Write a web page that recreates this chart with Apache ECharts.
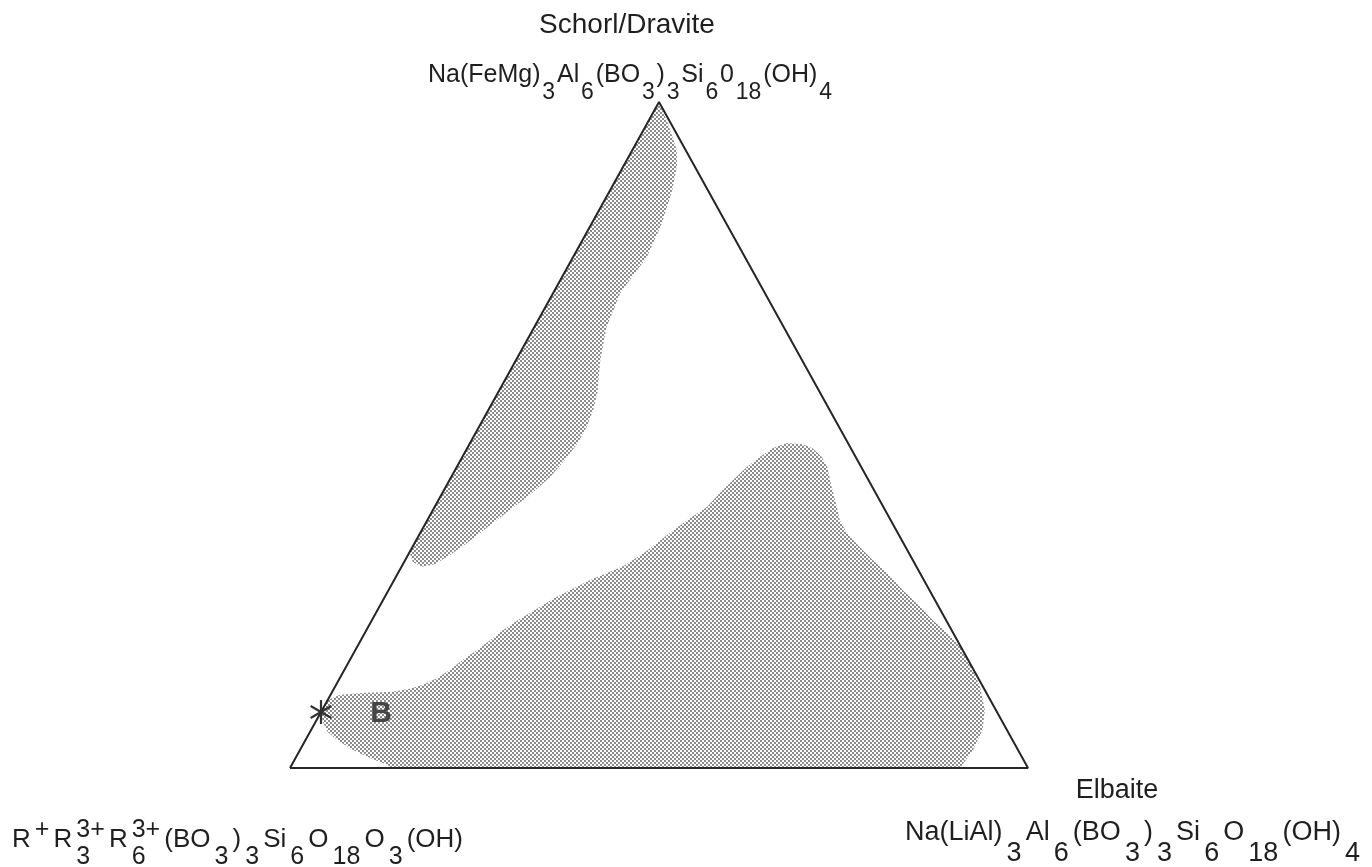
<!DOCTYPE html>
<html>
<head>
<meta charset="utf-8">
<script src="https://cdn.jsdelivr.net/npm/echarts@6/dist/echarts.min.js"></script>
<style>
  html, body { margin: 0; padding: 0; background: #ffffff; }
  #chart { width: 1372px; height: 867px; }
</style>
</head>
<body>
<div id="chart"></div>
<script>
// ---------------- DATA ----------------
// Vertex labels
const topLabel = 'Schorl/Dravite';
const rightLabel = 'Elbaite';

// Compositions as [Schorl/Dravite %, Elbaite %]; remainder = R+R3(3+)R6(3+) end-member (lower left)
const triangleSchorl  = [0, 0, 100, 0];
const triangleElbaite = [0, 100, 0, 0];

// Upper stippled field (along the Schorl/Dravite – R+ join)
const upperFieldSchorl  = [100, 96.8, 92.8, 90.5, 86.8, 81.8, 76.7, 74.0, 71.3, 66.2, 61.3, 56.3, 53.8, 51.2, 48.8, 46.2, 43.7, 41.0, 38.7, 36.2, 33.8, 32.0, 30.6, 30.2, 30.9, 32.4];
const upperFieldElbaite = [0, 2.8, 6.0, 7.2, 8.4, 9.5, 10.0, 9.5, 9.1, 9.8, 11.4, 13.5, 14.2, 14.6, 14.6, 14.1, 13.4, 12.0, 10.4, 8.7, 7.1, 5.7, 4.3, 2.8, 1.2, 0];

// Lower stippled field (towards Elbaite)
const lowerFieldSchorl  = [10.2, 11.0, 11.3, 11.4, 11.9, 12.5, 13.5, 14.7, 16.2, 17.7, 19.2, 20.7, 22.1, 23.3, 25.7, 28.2, 30.3, 32.4, 35.0, 37.2, 39.2, 41.3, 43.2, 45.2, 46.7, 48.0, 48.8, 48.6, 48.0, 46.7, 45.2, 42.2, 39.2, 37.2, 35.3, 33.2, 31.2, 29.3, 26.7, 24.2, 22.2, 20.3, 18.2, 15.8, 12.2, 8.7, 5.7, 2.7, 0, 0, 0.5, 1.5, 2.7, 4.2, 5.4, 6.9, 8.4];
const lowerFieldElbaite = [0, 1.3, 4.5, 7.9, 10.3, 11.8, 13.2, 14.3, 15.3, 16.5, 17.5, 18.5, 19.7, 20.9, 23.3, 26.5, 30.0, 31.9, 33.6, 35.2, 36.9, 37.6, 38.4, 39.3, 40.3, 41.4, 42.9, 45.2, 46.8, 48.7, 50.2, 52.3, 54.5, 55.9, 57.8, 60.6, 63.4, 66.2, 69.7, 73.3, 76.0, 78.9, 81.7, 84.2, 87.4, 89.8, 91.0, 91.2, 90.8, 13.8, 12.9, 10.1, 7.2, 4.3, 2.4, 1.0, 0];

// Asterisk composition and label "B"
const starPoint = [8.4, 0];
const bLabelPoint = [8.1, 8.3];
const bLabelText = 'B';

// Formula tokens: [text, kind] with kind n = normal, b = subscript, p = superscript; [sup, sub, 'pb'] = stacked
const topFormula = [['Na(FeMg)','n'],['3','b'],['Al','n'],['6','b'],['(BO','n'],['3','b'],[')','n'],['3','b'],['Si','n'],['6','b'],['0','n'],['18','b'],['(OH)','n'],['4','b']];
const rightFormula = [['Na(LiAl)','n'],['3','b'],['Al','n'],['6','b'],['(BO','n'],['3','b'],[')','n'],['3','b'],['Si','n'],['6','b'],['O','n'],['18','b'],['(OH)','n'],['4','b']];
const leftFormula = [['R','n'],['+','p'],['R','n'],['3+','3','pb'],['R','n'],['3+','6','pb'],['(BO','n'],['3','b'],[')','n'],['3','b'],['Si','n'],['6','b'],['O','n'],['18','b'],['O','n'],['3','b'],['(OH)','n']];

// ---------------- HELPERS ----------------
function ternaryToXY(s, e) { return [e + s / 2, s]; }
function toPoints(sArr, eArr) { return sArr.map((s, i) => ternaryToXY(s, eArr[i])); }

const FONT = "'Liberation Sans', Arial, Helvetica, sans-serif";
const INK = '#1f1f1f';
const MID = 0.3465;
const mctx = document.createElement('canvas').getContext('2d');
function tw(t, size) { mctx.font = size + 'px ' + FONT; return mctx.measureText(t).width; }

function textEl(t, x, baseline, size, align) {
  return {
    type: 'text', x: x, y: baseline - MID * size, silent: true,
    style: { text: t, font: size + 'px ' + FONT, fill: INK,
             align: align, textAlign: align, verticalAlign: 'middle', textVerticalAlign: 'middle' }
  };
}

function formula(tokens, cfg) {
  const widths = tokens.map(tk => tk.length === 3
    ? Math.max(tw(tk[0], cfg.size.p), tw(tk[1], cfg.size.b))
    : tw(tk[0], cfg.size[tk[1]]));
  const total = widths.reduce((a, b) => a + b, 0);
  const gap = Math.max(0, (cfg.x1 - cfg.x0 - total) / (tokens.length - 1));
  const els = [];
  let x = cfg.x0;
  tokens.forEach((tk, i) => {
    if (tk.length === 3) {
      els.push(textEl(tk[0], x, cfg.base.p, cfg.size.p, 'left'));
      els.push(textEl(tk[1], x, cfg.base.b, cfg.size.b, 'left'));
    } else {
      els.push(textEl(tk[0], x, cfg.base[tk[1]], cfg.size[tk[1]], 'left'));
    }
    x += widths[i] + gap;
  });
  return els;
}

function makeStipple() {
  const c = document.createElement('canvas');
  c.width = 4; c.height = 4;
  const g = c.getContext('2d');
  g.fillStyle = '#555555';
  g.beginPath(); g.arc(1, 1, 0.9, 0, Math.PI * 2); g.fill();
  g.beginPath(); g.arc(3, 3, 0.9, 0, Math.PI * 2); g.fill();
  return c;
}
const stipple = { image: makeStipple(), repeat: 'repeat' };

function fieldSeries(name, sArr, eArr) {
  const pts = toPoints(sArr, eArr);
  return {
    type: 'custom', name: name, coordinateSystem: 'cartesian2d', data: pts, z: 1, silent: true,
    renderItem: function (params, api) {
      if (params.dataIndex !== 0) return null;
      return { type: 'polygon', shape: { points: pts.map(p => api.coord(p)) },
               style: { fill: stipple, stroke: null } };
    }
  };
}

// ---------------- CHART ----------------
const chart = echarts.init(document.getElementById('chart'), null, { renderer: 'canvas' });

const graphics = []
  .concat([textEl(topLabel, 627, 35, 28, 'center')])
  .concat(formula(topFormula, { x0: 428, x1: 832, size: { n: 25, b: 23, p: 23 }, base: { n: 83.5, b: 100.5, p: 74 } }))
  .concat([textEl(rightLabel, 1117, 800, 27, 'center')])
  .concat(formula(rightFormula, { x0: 905, x1: 1360, size: { n: 27, b: 27, p: 24 }, base: { n: 842, b: 863, p: 830 } }))
  .concat(formula(leftFormula, { x0: 12, x1: 463, size: { n: 26, b: 25, p: 25 }, base: { n: 849, b: 866, p: 839 } }));

chart.setOption({
  animation: false,
  backgroundColor: '#ffffff',
  grid: { left: 290, top: 102, width: 738, height: 666 },
  xAxis: { type: 'value', min: 0, max: 100, show: false },
  yAxis: { type: 'value', min: 0, max: 100, show: false },
  graphic: graphics,
  series: [
    fieldSeries('upper field', upperFieldSchorl, upperFieldElbaite),
    fieldSeries('lower field', lowerFieldSchorl, lowerFieldElbaite),
    {
      type: 'line', name: 'triangle', data: toPoints(triangleSchorl, triangleElbaite),
      symbol: 'none', silent: true, z: 3,
      lineStyle: { color: '#262626', width: 2 }
    },
    {
      type: 'custom', name: 'asterisk', coordinateSystem: 'cartesian2d', z: 4, silent: true,
      data: [ternaryToXY(starPoint[0], starPoint[1])],
      renderItem: function (params, api) {
        const c = api.coord([api.value(0), api.value(1)]);
        const r = 12;
        const children = [90, 30, 150].map(function (deg) {
          const a = deg * Math.PI / 180;
          return { type: 'line', shape: { x1: c[0] - r * Math.cos(a), y1: c[1] - r * Math.sin(a), x2: c[0] + r * Math.cos(a), y2: c[1] + r * Math.sin(a) },
                   style: { stroke: '#333333', lineWidth: 2.2 } };
        });
        return { type: 'group', children: children };
      }
    },
    {
      type: 'custom', name: 'B', coordinateSystem: 'cartesian2d', z: 4, silent: true,
      data: [ternaryToXY(bLabelPoint[0], bLabelPoint[1])],
      renderItem: function (params, api) {
        const c = api.coord([api.value(0), api.value(1)]);
        return { type: 'text', x: c[0], y: c[1],
                 style: { text: bLabelText, font: 'bold 30px ' + FONT, fill: '#454545',
                          align: 'center', verticalAlign: 'middle', textAlign: 'center', textVerticalAlign: 'middle' } };
      }
    }
  ]
});
</script>
</body>
</html>
